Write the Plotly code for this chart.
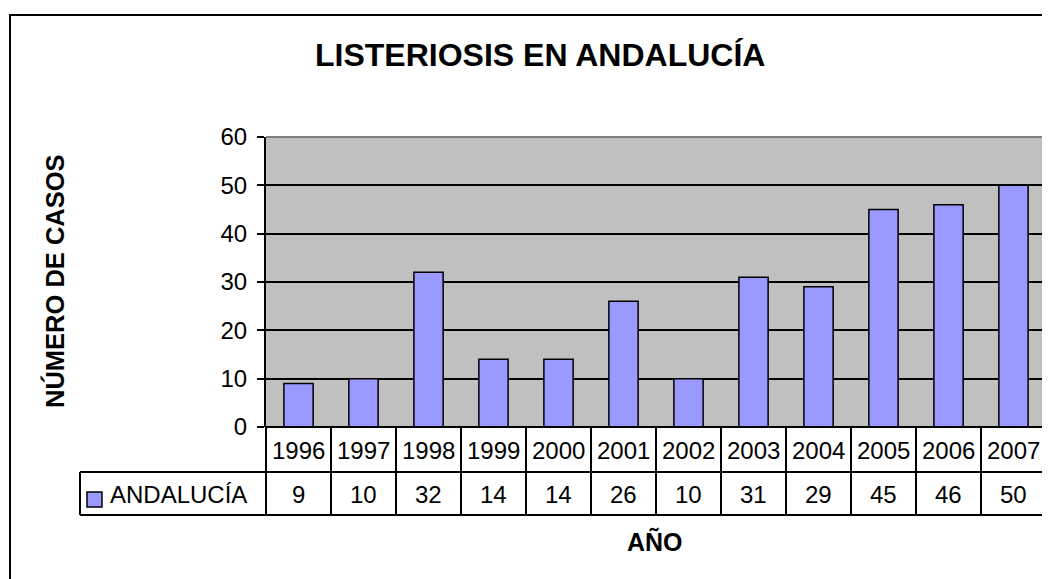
import plotly.graph_objects as go

# data
years = ["1996", "1997", "1998", "1999", "2000", "2001",
         "2002", "2003", "2004", "2005", "2006", "2007"]
cases = [9, 10, 32, 14, 14, 26, 10, 31, 29, 45, 46, 50]
series_name = "ANDALUCÍA"
title_text = "LISTERIOSIS EN ANDALUCÍA"
y_title = "NÚMERO DE CASOS"
x_title = "AÑO"

# the page body adds an 8px margin, so positions are given in screen pixels
# and shifted back by OFF
OFF = 8
W, H = 1050 - OFF, 579 - OFF
FONT = "Liberation Sans, Arial, sans-serif"
BAR_COLOR = "#9999FF"

L, R, T, B = 266 - OFF, 1046 - OFF, 137 - OFF, 427 - OFF   # plot area


def px_x(px):
    return (px - OFF - L) / (R - L)


def px_y(py):
    return (B - (py - OFF)) / (B - T)


fig = go.Figure()

fig.add_trace(go.Bar(
    x=years, y=cases, name=series_name,
    marker=dict(color=BAR_COLOR, line=dict(color="black", width=1.5)),
    showlegend=False,
))

shapes = []
annotations = []

## outer chart frame (runs off the right and bottom edges)
shapes.append(dict(type="rect", xref="paper", yref="paper",
                   x0=px_x(10), x1=px_x(1070), y0=px_y(15), y1=px_y(600),
                   line=dict(color="black", width=2), layer="below"))

## plot area border (grey top and right)
shapes.append(dict(type="line", xref="paper", yref="paper",
                   x0=0, x1=1, y0=1, y1=1, line=dict(color="#808080", width=2)))
shapes.append(dict(type="line", xref="paper", yref="paper",
                   x0=1, x1=1, y0=0, y1=1, line=dict(color="#808080", width=2)))

## data table under the axis
row1_bot, row2_bot, leg_left = 472, 515, 80
n = len(years)
line_style = dict(color="black", width=2)
shapes.append(dict(type="line", xref="paper", yref="paper",
                   x0=0, x1=1, y0=0, y1=0, line=line_style))
shapes.append(dict(type="line", xref="paper", yref="paper",
                   x0=px_x(leg_left), x1=1, y0=px_y(row1_bot), y1=px_y(row1_bot),
                   line=line_style))
shapes.append(dict(type="line", xref="paper", yref="paper",
                   x0=px_x(leg_left), x1=1, y0=px_y(row2_bot), y1=px_y(row2_bot),
                   line=line_style))
for i in range(n + 1):
    shapes.append(dict(type="line", xref="paper", yref="paper",
                       x0=i / n, x1=i / n, y0=0, y1=px_y(row2_bot),
                       line=line_style))
shapes.append(dict(type="line", xref="paper", yref="paper",
                   x0=px_x(leg_left), x1=px_x(leg_left),
                   y0=px_y(row1_bot), y1=px_y(row2_bot), line=line_style))

# legend key swatch
shapes.append(dict(type="rect", xref="paper", yref="paper",
                   x0=px_x(87), x1=px_x(102), y0=px_y(492), y1=px_y(507),
                   fillcolor=BAR_COLOR, line=dict(color="black", width=1.5)))
annotations.append(dict(text=series_name, xref="paper", yref="paper",
                        x=px_x(108), y=px_y(494), xanchor="left", yanchor="middle",
                        showarrow=False, font=dict(size=24, color="black")))

for i, (yr, v) in enumerate(zip(years, cases)):
    annotations.append(dict(text=yr, xref="x", yref="paper",
                            x=i, y=px_y(450), yanchor="middle",
                            showarrow=False, font=dict(size=24, color="black")))
    annotations.append(dict(text=str(v), xref="x", yref="paper",
                            x=i, y=px_y(494), yanchor="middle",
                            showarrow=False, font=dict(size=24, color="black")))

## titles
annotations.append(dict(text=f"<b>{title_text}</b>", xref="paper", yref="paper",
                        x=px_x(540), y=px_y(55), xanchor="center", yanchor="middle",
                        showarrow=False, font=dict(size=32, color="black")))
annotations.append(dict(text=f"<b>{y_title}</b>", xref="paper", yref="paper",
                        x=px_x(54), y=px_y(281), xanchor="center", yanchor="middle",
                        textangle=-90, showarrow=False,
                        font=dict(size=25.5, color="black")))
annotations.append(dict(text=f"<b>{x_title}</b>", xref="paper", yref="paper",
                        x=px_x(655), y=px_y(541), xanchor="center", yanchor="middle",
                        showarrow=False, font=dict(size=25, color="black")))

fig.update_layout(
    width=W, height=H,
    margin=dict(l=L, r=W - R, t=T, b=H - B, pad=0),
    paper_bgcolor="white",
    plot_bgcolor="#C0C0C0",
    font=dict(family=FONT, color="black", size=24),
    bargap=0.55,
    xaxis=dict(type="category", range=[-0.5, n - 0.5], showticklabels=False,
               showgrid=False, zeroline=False, ticks=""),
    yaxis=dict(range=[0, 60], dtick=10, showgrid=True, gridcolor="black",
               gridwidth=2, zeroline=False, showline=True, linecolor="black",
               linewidth=2, ticks="outside", ticklen=7, tickcolor="black",
               tickwidth=2, ticklabelstandoff=5,
               tickfont=dict(size=24, color="black")),
    shapes=shapes,
    annotations=annotations,
)

fig.write_html("out.html")
